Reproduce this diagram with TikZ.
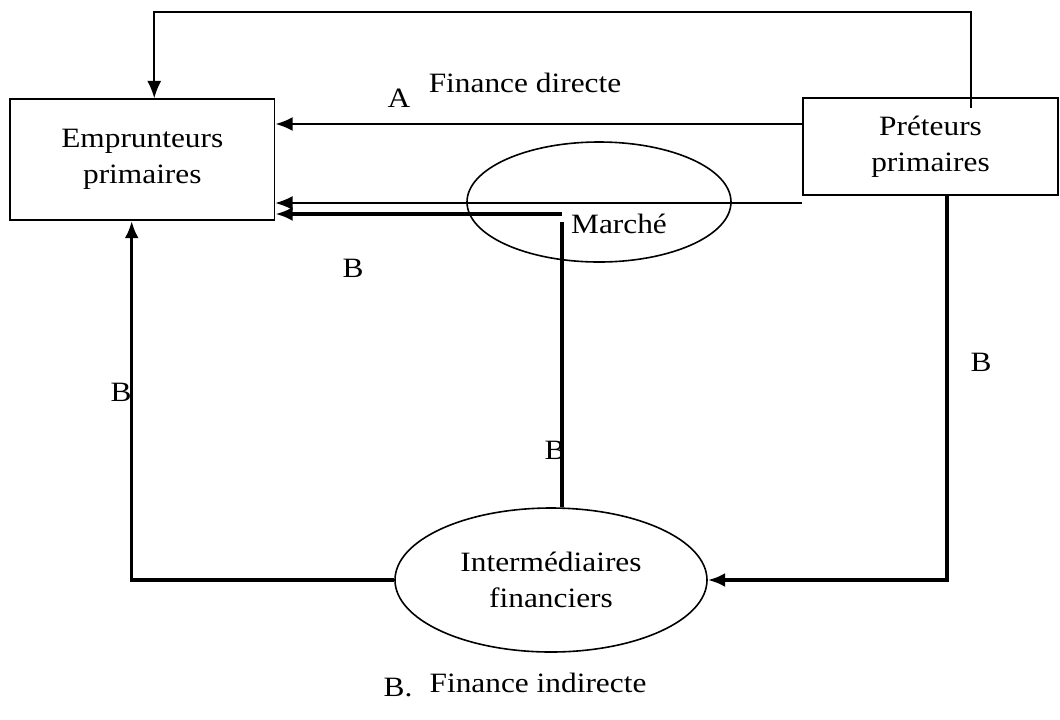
\documentclass[tikz,border=0pt]{standalone}
\usepackage{fontspec}
\setmainfont{Liberation Serif}[FakeStretch=1.12]
\usetikzlibrary{arrows.meta,shapes.geometric}
\begin{document}
\begin{tikzpicture}[x=0.75pt,y=-0.75pt,
  every node/.style={font=\fontsize{21}{27}\selectfont},
  boxnode/.style={draw,line width=1.2pt,inner sep=0pt,align=center},
  ellnode/.style={draw,ellipse,line width=1.2pt,inner sep=0pt,align=center},
  thinline/.style={line width=1.2pt},
  midline/.style={line width=1.8pt},
  thickline/.style={line width=2.6pt},
  tip/.style={-{Latex[length=13pt,width=10.5pt]}},
  lab/.style={inner sep=0pt}]
\useasboundingbox (0,0) rectangle (1060,719);
% nodes
\node[boxnode,minimum width=264.5*0.75pt,minimum height=121*0.75pt] (emp) at (142.3,159.5) {Emprunteurs\\primaires};
\node[boxnode,minimum width=255*0.75pt,minimum height=97*0.75pt] (pre) at (930.5,146.5) {Préteurs\\primaires};
\node[ellnode,minimum width=264*0.75pt,minimum height=120*0.75pt] (mar) at (599,202) {};
\node[lab] (martext) at (619,224) {Marché};
\node[ellnode,minimum width=312*0.75pt,minimum height=144*0.75pt] (inter) at (551,580) {Intermédiaires\\financiers};
% helper coordinates
\coordinate (t1) at (971,108);
\coordinate (yA) at (0,124);
\coordinate (yM) at (0,203);
\coordinate (mk) at (562,214);
\coordinate (mv) at (562,222);
\coordinate (lx) at (131.7,0);
\coordinate (rx) at (947,0);
% connectors
\draw[thinline,tip] (t1) -- ++(0,-96) -| ([xshift=145*0.75pt]emp.north west);
\draw[midline,tip] (pre.west |- yA) -- (emp.east |- yA);
\draw[thinline,tip] (pre.west |- yM) -- (emp.east |- yM);
\draw[thickline,tip] (mk) -- (emp.east |- mk);
\draw[thickline] (mv) -- (mv |- inter.north);
\draw[thickline,tip] (inter.west) -| (lx |- emp.south);
\draw[thickline,tip] (rx |- pre.south) |- (inter.east);
% labels
\node[lab] (lA) at (399,98) {A};
\node[lab] (lFD) at (525,83) {Finance directe};
\node[lab] (lB1) at (353,268) {B};
\node[lab] (lB2) at (121,392) {B};
\node[lab] (lB3) at (555,450) {B};
\node[lab] (lB4) at (981,362) {B};
\node[lab] (lBdot) at (398,688) {B.};
\node[lab] (lFI) at (538,683) {Finance indirecte};
\end{tikzpicture}
\end{document}
